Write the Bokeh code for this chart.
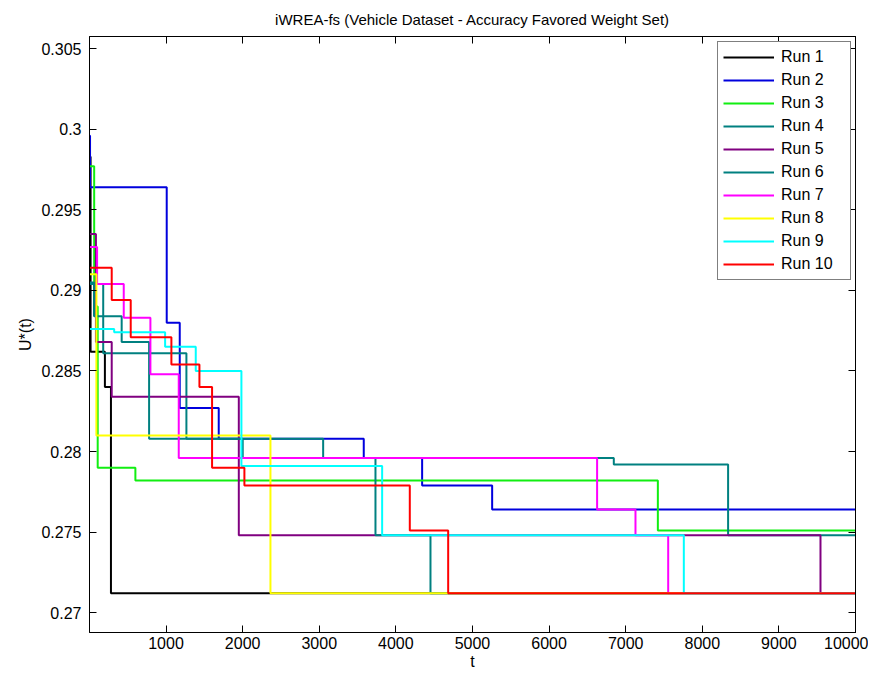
from bokeh.plotting import figure
from bokeh.models import Range1d, FixedTicker, LinearAxis, CustomJSTickFormatter
from bokeh.embed import file_html
from bokeh.resources import INLINE

# ---- data ----
run_labels = ["Run 1", "Run 2", "Run 3", "Run 4", "Run 5",
              "Run 6", "Run 7", "Run 8", "Run 9", "Run 10"]

run1_t = [1, 15, 202, 281, 10000]
run1_u = [0.2983, 0.2862, 0.2840, 0.2712, 0.2712]

run2_t = [1, 8, 1009, 1179, 1688, 3581, 4343, 5257, 10000]
run2_u = [0.2996, 0.2964, 0.2880, 0.2827, 0.2808, 0.2796, 0.2779, 0.2764, 0.2764]

run3_t = [1, 62, 108, 600, 7420, 10000]
run3_u = [0.2977, 0.2890, 0.2790, 0.2782, 0.2751, 0.2751]

run4_t = [1, 180, 1266, 3051, 6845, 8337, 10000]
run4_u = [0.2904, 0.2861, 0.2808, 0.2796, 0.2792, 0.2748, 0.2748]

run5_t = [1, 85, 291, 1950, 9543, 10000]
run5_u = [0.2935, 0.2868, 0.2834, 0.2748, 0.2712, 0.2712]

run6_t = [1, 60, 421, 779, 2001, 3734, 4452, 10000]
run6_u = [0.2905, 0.2884, 0.2868, 0.2808, 0.2796, 0.2748, 0.2712, 0.2712]

run7_t = [1, 100, 448, 796, 1166, 6627, 7128, 7555, 10000]
run7_u = [0.2927, 0.2904, 0.2883, 0.2848, 0.2796, 0.2764, 0.2748, 0.2712, 0.2712]

run8_t = [1, 91, 2363, 10000]
run8_u = [0.2910, 0.2810, 0.2712, 0.2712]

run9_t = [1, 323, 988, 1388, 1984, 3821, 7759, 10000]
run9_u = [0.2876, 0.2874, 0.2865, 0.2850, 0.2791, 0.2748, 0.2712, 0.2712]

run10_t = [1, 291, 539, 1070, 1436, 1601, 2023, 4182, 4683, 10000]
run10_u = [0.2914, 0.2894, 0.2871, 0.2854, 0.2840, 0.2790, 0.2779, 0.2751, 0.2712, 0.2712]

x_ticks = [1000, 2000, 3000, 4000, 5000, 6000, 7000, 8000, 9000, 10000]
y_ticks = [0.27, 0.275, 0.28, 0.285, 0.29, 0.295, 0.3, 0.305]

run_colors = ["#000000", "#0000dd", "#11ee11", "#008080", "#800080",
              "#008080", "#ff00ff", "#ffff00", "#00ffff", "#ff0000"]

runs_t = [run1_t, run2_t, run3_t, run4_t, run5_t, run6_t, run7_t, run8_t, run9_t, run10_t]
runs_u = [run1_u, run2_u, run3_u, run4_u, run5_u, run6_u, run7_u, run8_u, run9_u, run10_u]

FONT = "Liberation Sans"

p = figure(width=868, height=672, output_backend="svg", toolbar_location=None,
           x_range=Range1d(1, 10000), y_range=Range1d(0.26877, 0.30576),
           min_border_left=89, min_border_right=13, min_border_top=36,
           min_border_bottom=36,
           title="iWREA-fs (Vehicle Dataset - Accuracy Favored Weight Set)")

p.title.align = "center"
p.title.text_font = FONT
p.title.text_font_style = "normal"
p.title.text_font_size = "15px"
p.title.text_color = "#000000"
p.title.standoff = 17

p.grid.visible = False
p.outline_line_color = "black"
p.outline_line_width = 1
p.background_fill_color = "white"
p.border_fill_color = "white"

for t, u, c, lab in zip(runs_t, runs_u, run_colors, run_labels):
    p.step(t, u, mode="after", line_color=c, line_width=2, legend_label=lab)

yfmt = CustomJSTickFormatter(code="return String(parseFloat(tick.toFixed(3)));")

for ax in (p.xaxis[0], p.yaxis[0]):
    ax.major_tick_in = 7
    ax.major_tick_out = 0
    ax.minor_tick_in = 0
    ax.minor_tick_out = 0
    ax.axis_line_color = "black"
    ax.major_tick_line_color = "black"
    ax.major_label_text_font = FONT
    ax.major_label_text_font_size = "16px"
    ax.major_label_text_color = "black"
    ax.axis_label_text_font = FONT
    ax.axis_label_text_font_style = "normal"
    ax.axis_label_text_font_size = "16px"
    ax.axis_label_text_color = "black"

p.xaxis[0].ticker = FixedTicker(ticks=x_ticks)
p.xaxis[0].axis_label = "t"
p.xaxis[0].major_label_standoff = 4
p.xaxis[0].axis_label_standoff = 1

p.yaxis[0].ticker = FixedTicker(ticks=y_ticks)
p.yaxis[0].formatter = yfmt
p.yaxis[0].axis_label = "U*(t)"
p.yaxis[0].major_label_standoff = 8
p.yaxis[0].axis_label_standoff = 4

blank = CustomJSTickFormatter(code="return '';")
top_ax = LinearAxis(ticker=FixedTicker(ticks=x_ticks), formatter=blank,
                    major_tick_in=7, major_tick_out=0, minor_tick_in=0, minor_tick_out=0,
                    major_label_text_font_size="0px", major_label_standoff=0,
                    axis_line_color="black")
right_ax = LinearAxis(ticker=FixedTicker(ticks=y_ticks), formatter=blank,
                      major_tick_in=7, major_tick_out=0, minor_tick_in=0, minor_tick_out=0,
                      major_label_text_font_size="0px", major_label_standoff=0,
                      axis_line_color="black")
p.add_layout(top_ax, "above")
p.add_layout(right_ax, "right")

lg = p.legend[0]
lg.location = (628, 352)
lg.margin = 0
lg.padding = 5
lg.spacing = 3
lg.glyph_width = 51
lg.glyph_height = 20
lg.label_height = 20
lg.label_width = 64
lg.label_standoff = 7
lg.label_text_font = FONT
lg.label_text_font_size = "16px"
lg.label_text_color = "black"
lg.border_line_color = "black"
lg.border_line_width = 1
lg.background_fill_color = "white"
lg.background_fill_alpha = 1.0

open("out.html", "w").write(file_html(p, INLINE))
